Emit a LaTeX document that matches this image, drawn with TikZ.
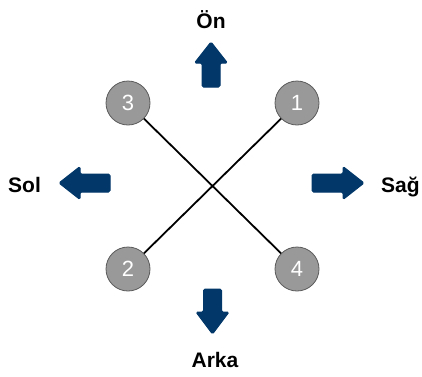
\documentclass[tikz,border=0pt]{standalone}
\usepackage{fontspec}
\setmainfont{Liberation Sans}
\definecolor{navy}{RGB}{1,55,105}
\definecolor{wheel}{RGB}{153,153,153}
\definecolor{wheeledge}{RGB}{90,90,90}
\begin{document}
\begin{tikzpicture}[x=1pt,y=-1pt,
  wheelnode/.style={circle,fill=wheel,draw=wheeledge,line width=0.8pt,
    minimum size=44pt,inner sep=0pt,text=white,font=\fontsize{22}{22}\selectfont},
  axle/.style={line width=1.8pt,black},
  dirlabel/.style={font=\bfseries\fontsize{21}{21}\selectfont,inner sep=0pt},
  dirarrow/.style={fill=navy,draw=navy,line width=1pt,rounded corners=1.5pt,line join=round}]
  \useasboundingbox (0,0) rectangle (422,376);

  % wheels
  \coordinate (c1) at (297,103);
  \coordinate (c2) at (128,269);
  \coordinate (c3) at (128,103);
  \coordinate (c4) at (297,269);
  \draw[axle] (c3) -- (c4);
  \draw[axle] (c1) -- (c2);
  \node[wheelnode] (w1) at (c1) {1};
  \node[wheelnode] (w2) at (c2) {2};
  \node[wheelnode] (w3) at (c3) {3};
  \node[wheelnode] (w4) at (c4) {4};

  % direction arrows
  \filldraw[dirarrow] (211,42) -- (227.5,63) -- (220,63) -- (220,87) -- (202,87) -- (202,63) -- (194.5,63) -- cycle;
  \filldraw[dirarrow] (212.5,334) -- (229,312) -- (221.5,312) -- (221.5,289) -- (203.5,289) -- (203.5,312) -- (196,312) -- cycle;
  \filldraw[dirarrow] (59,183) -- (80,166.5) -- (80,174) -- (110,174) -- (110,192) -- (80,192) -- (80,199.5) -- cycle;
  \filldraw[dirarrow] (364,183) -- (343,166.5) -- (343,174) -- (312,174) -- (312,192) -- (343,192) -- (343,199.5) -- cycle;

  % labels
  \node[dirlabel,anchor=base] (on) at (211,28) {Ön};
  \node[dirlabel,anchor=base] (arka) at (215,367) {Arka};
  \node[dirlabel,anchor=base west] (sol) at (8,192) {Sol};
  \node[dirlabel,anchor=base west] (sag) at (381,192) {Sağ};
\end{tikzpicture}
\end{document}
